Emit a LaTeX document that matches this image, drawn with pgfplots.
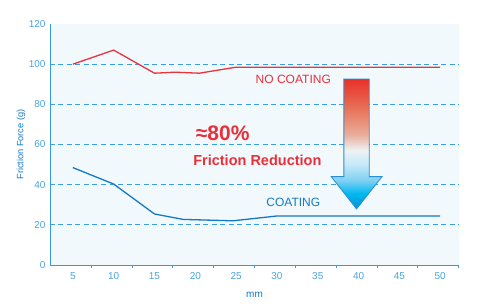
\documentclass[border=0pt]{standalone}
\usepackage{fontspec}
\setmainfont{Liberation Sans}
\usepackage{pgfplots}
\pgfplotsset{compat=1.18}
\definecolor{axblue}{HTML}{3A9AD9}
\definecolor{lblblue}{HTML}{4AA3DF}
\definecolor{gridblue}{HTML}{3A9FE0}
\definecolor{bgblue}{HTML}{F1F9FD}
\definecolor{redline}{HTML}{E8343A}
\definecolor{blueline}{HTML}{1479C4}
\definecolor{txtred}{HTML}{E8303A}
\definecolor{arrowblue}{HTML}{2A8FD0}
\definecolor{sA}{HTML}{0A8ED0}
\definecolor{sB}{HTML}{00B8F0}
\definecolor{sC}{HTML}{7FD0F3}
\definecolor{sD}{HTML}{C4E8F8}
\definecolor{sE}{HTML}{EEF3F4}
\definecolor{sF}{HTML}{E9AE9C}
\definecolor{sG}{HTML}{E86A50}
\definecolor{sH}{HTML}{E8302A}
\pgfdeclareverticalshading{arrowshade}{100bp}{color(0bp)=(sA); color(25bp)=(sA); color(31bp)=(sB); color(36bp)=(sC); color(42bp)=(sD); color(47.5bp)=(sE); color(53.5bp)=(sF); color(65bp)=(sG); color(75bp)=(sH); color(100bp)=(sH)}
\begin{document}
\begin{tikzpicture}[x=1pt,y=1pt]
\useasboundingbox (0,0) rectangle (477,304);
\begin{axis}[
  at={(50pt,39pt)}, anchor=south west,
  scale only axis, width=409pt, height=241pt,
  xmin=2.2, xmax=52.3, ymin=0, ymax=120,
  axis lines=left, axis line style={-, draw=axblue, line width=0.9pt},
  axis background/.style={fill=bgblue},
  xtick={5,10,...,50}, ytick={0,20,...,120},
  major tick length=0pt,
  extra x ticks={7.25,12.25,...,52.25}, extra x tick labels={},
  extra x tick style={major tick length=3pt, tick align=outside, tick style={draw=axblue, line width=0.9pt}},
  extra y ticks={20,40,60,80,100}, extra y tick labels={},
  extra y tick style={grid=major, major grid style={dash pattern=on 5pt off 3.5pt, draw=gridblue, line width=0.9pt}},
  tick label style={font=\fontsize{10}{12}\selectfont, text=lblblue},
  /pgf/number format/assume math mode=true,
  xticklabel style={yshift=-4pt},
  yticklabel style={xshift=-1pt},
  xlabel={mm}, ylabel={Friction Force (g)},
  label style={text=blueline},
  xlabel style={font=\fontsize{10}{12}\selectfont, at={(axis description cs:0.5,-0.1245)}, anchor=center},
  ylabel style={font=\fontsize{9.2}{11}\selectfont, at={(axis description cs:-0.0709,0.5)}, anchor=center},
  clip=false,
]
\addplot[redline, line width=1.3pt] coordinates {(5,100) (10,107) (15,95.5) (17.5,96) (20.5,95.5) (25,98.5) (30,98.5) (35,98.5) (40,98.5) (45,98.5) (50,98.5)};
\addplot[blueline, line width=1.3pt] coordinates {(5,48.5) (10,40.3) (15,25.4) (18.5,22.7) (24.6,22) (30,24.4) (35,24.4) (40,24.4) (45,24.4) (50,24.4)};
\shade[shading=arrowshade, draw=arrowblue, line width=0.8pt] (axis cs:38.2,92.6) -- (axis cs:41.3,92.6) -- (axis cs:41.3,44) -- (axis cs:42.87,44) -- (axis cs:39.75,27.9) -- (axis cs:36.65,44) -- (axis cs:38.2,44) -- cycle;
\node[text=txtred, font=\fontsize{12}{14}\selectfont, inner sep=0pt] at (axis cs:32,92.6) {NO COATING};
\node[text=blueline, font=\fontsize{12}{14}\selectfont, inner sep=0pt] at (axis cs:32,31.4) {COATING};
\node[text=txtred, font=\bfseries\fontsize{21}{24}\selectfont, inner sep=0pt] at (axis cs:23.36,65.6) {≈80\%};
\node[text=txtred, font=\bfseries\fontsize{14.5}{17}\selectfont, inner sep=0pt] at (axis cs:27.6,52.1) {Friction Reduction};
\end{axis}
\end{tikzpicture}
\end{document}
